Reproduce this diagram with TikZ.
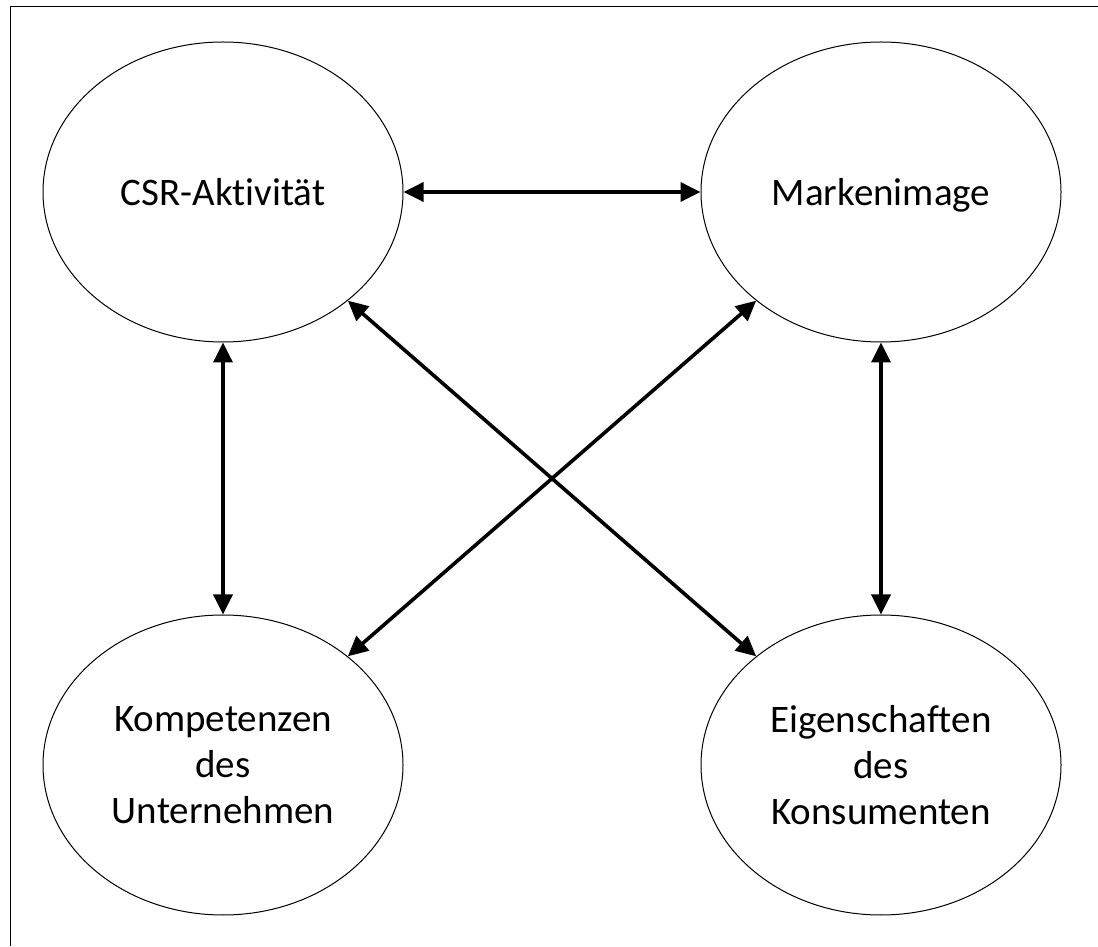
\documentclass[tikz,border=0pt]{standalone}
\usepackage{fontspec}
\setmainfont[Ligatures={NoCommon}]{Carlito}
\usetikzlibrary{arrows.meta,shapes.geometric}
\tikzset{
  bubble/.style={draw, ellipse, line width=1pt, minimum width=360pt, minimum height=300pt,
    inner sep=0pt, outer sep=0pt, align=center, font=\fontsize{39}{46}\selectfont},
  oneline/.style={text depth=0pt},
  link/.style={line width=3.6pt, {Triangle[length=20pt,width=19pt]}-{Triangle[length=20pt,width=19pt]}, shorten <=0.5pt, shorten >=0.5pt}
}
\begin{document}
\begin{tikzpicture}[x=1pt,y=1pt]
\useasboundingbox (0,0) rectangle (1098,946);
\fill[white] (0,0) rectangle (1098,946);
\draw[line width=1pt] (10,0) -- (10,939) -- (1098,939);
\node[bubble, oneline] (csr) at (223,754) {CSR-Aktivität};
\node[bubble, oneline] (marke) at (881,754) {Markenimage};
\node[bubble] (komp) at (223,181) {Kompetenzen\\des\\Unternehmen};
\node[bubble] (eig) at (881,181) {Eigenschaften\\des\\Konsumenten};
\draw[link] (csr) -- (marke);
\draw[link] (csr) -- (komp);
\draw[link] (marke) -- (eig);
\draw[link] (csr) -- (eig);
\draw[link] (marke) -- (komp);
\end{tikzpicture}
\end{document}
